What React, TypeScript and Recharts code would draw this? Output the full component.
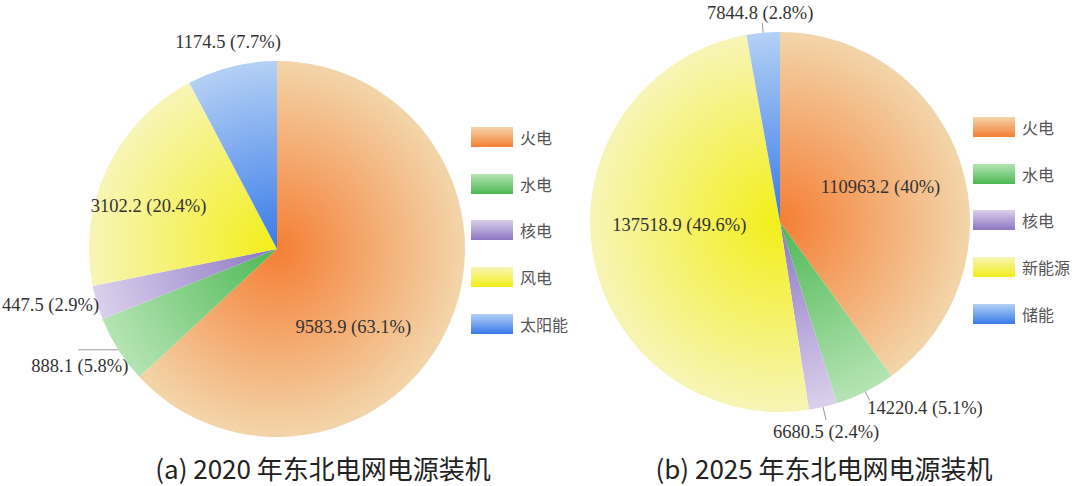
import React from 'react'
import { PieChart, Pie, Cell } from 'recharts'

// ── data ──
const NAMES_2020 = ['火电', '水电', '核电', '风电', '太阳能']
const VALUES_2020 = [9583.9, 888.1, 447.5, 3102.2, 1174.5]
const NAMES_2025 = ['火电', '水电', '核电', '新能源', '储能']
const VALUES_2025 = [110963.2, 14220.4, 6680.5, 137518.9, 7844.8]
const TITLES = ['(a) 2020 年东北电网电源装机', '(b) 2025 年东北电网电源装机']

// slice colours: [centre, rim]
const COLORS = [
  ['#f57e34', '#f3d5aa'],
  ['#4db855', '#b5e4b3'],
  ['#8c76c3', '#dbd0ec'],
  ['#f3ee18', '#f7f5b6'],
  ['#377ae8', '#b4d0f5'],
]

// label placement: radius factor, clockwise shift from mid angle, optional leader
type LabelLayout = { rf: number; dA: number; leader?: number | 'h' }
const LAYOUT_A: LabelLayout[] = [
  { rf: 0.58, dA: 22 },
  { rf: 1.22, dA: 1.7, leader: 'h' },
  { rf: 1.24, dA: 2.8 },
  { rf: 0.72, dA: -7 },
  { rf: 1.13, dA: 0.6 },
]
const LAYOUT_B: LabelLayout[] = [
  { rf: 0.56, dA: -1.3 },
  { rf: 1.24, dA: -11.3, leader: 1.05 },
  { rf: 1.13, dA: 0.7, leader: 1.07 },
  { rf: 0.53, dA: 8 },
  { rf: 1.105, dA: -0.3, leader: 1.05 },
]

const RAD = Math.PI / 180
const fmtPct = (p: number) => `${parseFloat((p * 100).toFixed(1))}%`

function makeLabel(layout: LabelLayout[]) {
  return (props: any) => {
    const { cx, cy, midAngle, outerRadius, index, value, percent } = props
    const L = layout[index]
    const a = (midAngle - L.dA) * RAD
    const x = cx + outerRadius * L.rf * Math.cos(a)
    const y = cy - outerRadius * L.rf * Math.sin(a)
    const ex = cx + outerRadius * Math.cos(midAngle * RAD)
    const ey = cy - outerRadius * Math.sin(midAngle * RAD)
    let line = null
    if (L.leader === 'h') {
      line = <line x1={ex} y1={ey} x2={ex - 40} y2={ey} stroke="#999" strokeWidth={1} />
    } else if (typeof L.leader === 'number') {
      const lx = cx + outerRadius * L.leader * Math.cos(midAngle * RAD)
      const ly = cy - outerRadius * L.leader * Math.sin(midAngle * RAD)
      line = <line x1={ex} y1={ey} x2={lx} y2={ly} stroke="#999" strokeWidth={1} />
    }
    return (
      <g>
        {line}
        <text x={x} y={y} textAnchor="middle" dominantBaseline="central"
          fontFamily="'Liberation Serif', serif" fontSize={18.5} fill="#333">
          {`${value} (${fmtPct(percent)})`}
        </text>
      </g>
    )
  }
}

const dataA = NAMES_2020.map((name, i) => ({ name, value: VALUES_2020[i] }))
const dataB = NAMES_2025.map((name, i) => ({ name, value: VALUES_2025[i] }))

const PIE_A = { cx: 277, cy: 249, r: 188 }
const PIE_B = { cx: 780, cy: 222, r: 190 }

function Grads({ id, pie }: { id: string; pie: { cx: number; cy: number; r: number } }) {
  return (
    <>
      {COLORS.map(([c0, c1], i) => (
        <radialGradient key={i} id={`${id}${i}`} gradientUnits="userSpaceOnUse"
          cx={pie.cx} cy={pie.cy} r={pie.r}>
          <stop offset="0%" stopColor={c0} />
          <stop offset="100%" stopColor={c1} />
        </radialGradient>
      ))}
    </>
  )
}

// ── legend ──
function Legend({ names, left, top }: { names: string[]; left: number; top: number }) {
  return (
    <div style={{ position: 'absolute', left, top }}>
      {names.map((n, i) => (
        <div key={n} style={{ position: 'absolute', top: i * 46.7, left: 0, display: 'flex', alignItems: 'center', whiteSpace: 'nowrap' }}>
          <div style={{
            width: 42, height: 20,
            background: `linear-gradient(to bottom, ${COLORS[i][1]}, ${COLORS[i][0]})`,
          }} />
          <span style={{ marginLeft: 7, fontFamily: "'Noto Sans CJK SC', sans-serif", fontSize: 16, color: '#555' }}>{n}</span>
        </div>
      ))}
    </div>
  )
}

export default function App() {
  return (
    <div style={{ position: 'absolute', left: 0, top: 0, width: 1080, height: 486, background: '#fff', overflow: 'hidden' }}>
      <PieChart width={1080} height={486} margin={{ top: 0, right: 0, bottom: 0, left: 0 }}>
        <defs>
          <Grads id="ga" pie={PIE_A} />
          <Grads id="gb" pie={PIE_B} />
        </defs>
        <Pie data={dataA} dataKey="value" cx={PIE_A.cx} cy={PIE_A.cy} outerRadius={PIE_A.r}
          startAngle={90} endAngle={-270} stroke="none" isAnimationActive={false}
          label={makeLabel(LAYOUT_A)} labelLine={false}>
          {dataA.map((d, i) => <Cell key={d.name} fill={`url(#ga${i})`} />)}
        </Pie>
        <Pie data={dataB} dataKey="value" cx={PIE_B.cx} cy={PIE_B.cy} outerRadius={PIE_B.r}
          startAngle={90} endAngle={-270} stroke="none" isAnimationActive={false}
          label={makeLabel(LAYOUT_B)} labelLine={false}>
          {dataB.map((d, i) => <Cell key={d.name} fill={`url(#gb${i})`} />)}
        </Pie>
      </PieChart>
      <Legend names={NAMES_2020} left={471} top={125} />
      <Legend names={NAMES_2025} left={973} top={115} />
      {TITLES.map((t, i) => (
        <div key={t} style={{
          position: 'absolute', left: i === 0 ? 123 : 624, top: 452, width: 400, textAlign: 'center',
          fontFamily: "'Noto Sans CJK SC', sans-serif", fontSize: 26, color: '#222', lineHeight: '31px',
        }}>{t}</div>
      ))}
    </div>
  )
}
